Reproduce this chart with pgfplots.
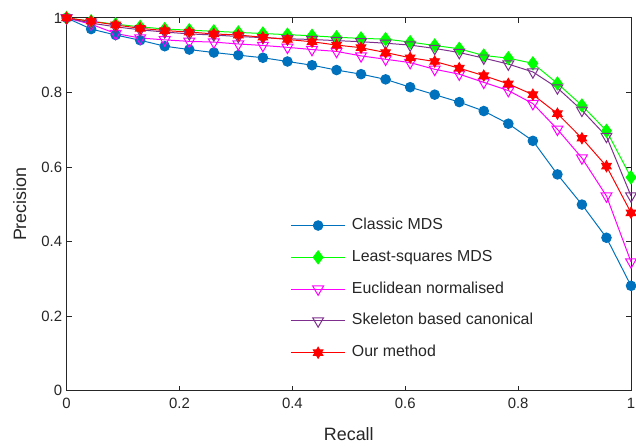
\documentclass[border=0pt]{standalone}
\usepackage{fontspec}
\setmainfont{Liberation Sans}
\usepackage{pgfplots}
\usepackage{pgfplotstable}
\pgfplotsset{compat=1.18}
\usetikzlibrary{plotmarks}

\definecolor{cBlue}{HTML}{0072BD}
\definecolor{cGreen}{HTML}{00FF00}
\definecolor{cMag}{HTML}{FF00FF}
\definecolor{cPurp}{HTML}{7E2F8E}
\definecolor{cRed}{HTML}{FF0000}
\definecolor{axgray}{HTML}{262626}

% filled six-pointed star (matlab hexagram)
\pgfdeclareplotmark{hexstar}{%
  \pgfpathmoveto{\pgfqpoint{0pt}{\pgfplotmarksize}}%
  \pgfpathlineto{\pgfqpoint{0.866\pgfplotmarksize}{-0.5\pgfplotmarksize}}%
  \pgfpathlineto{\pgfqpoint{-0.866\pgfplotmarksize}{-0.5\pgfplotmarksize}}%
  \pgfpathclose
  \pgfpathmoveto{\pgfqpoint{0pt}{-\pgfplotmarksize}}%
  \pgfpathlineto{\pgfqpoint{-0.866\pgfplotmarksize}{0.5\pgfplotmarksize}}%
  \pgfpathlineto{\pgfqpoint{0.866\pgfplotmarksize}{0.5\pgfplotmarksize}}%
  \pgfpathclose
  \pgfusepathqfillstroke}

\pgfplotstableread{
x      cmds   lsmds  eucl   skel   ours
0.0000 1.000  1.000  1.000  1.000  1.000
0.0435 0.970  0.991  0.983  0.986  0.991
0.0870 0.954  0.983  0.958  0.976  0.981
0.1304 0.940  0.976  0.946  0.968  0.972
0.1739 0.924  0.970  0.941  0.962  0.966
0.2174 0.915  0.967  0.937  0.957  0.962
0.2609 0.907  0.964  0.935  0.954  0.957
0.3043 0.900  0.961  0.930  0.950  0.954
0.3478 0.893  0.958  0.926  0.947  0.948
0.3913 0.883  0.955  0.921  0.944  0.942
0.4348 0.873  0.952  0.915  0.942  0.936
0.4783 0.860  0.948  0.910  0.939  0.927
0.5217 0.849  0.945  0.898  0.936  0.920
0.5652 0.835  0.943  0.889  0.932  0.907
0.6087 0.814  0.935  0.880  0.927  0.893
0.6522 0.794  0.926  0.862  0.918  0.883
0.6957 0.774  0.917  0.849  0.907  0.865
0.7391 0.750  0.899  0.827  0.892  0.845
0.7826 0.716  0.892  0.805  0.876  0.823
0.8261 0.670  0.878  0.770  0.855  0.794
0.8696 0.580  0.824  0.701  0.812  0.743
0.9130 0.499  0.765  0.624  0.752  0.677
0.9565 0.410  0.697  0.522  0.682  0.602
1.0000 0.281  0.572  0.345  0.522  0.477
}\prdata

\begin{document}
\begin{tikzpicture}
  \begin{axis}[
    width=568pt, height=375pt, scale only axis,
    at={(0pt,0pt)}, anchor=south west,
    xmin=0, xmax=1, ymin=0, ymax=1,
    xtick={0,0.2,0.4,0.6,0.8,1}, ytick={0,0.2,0.4,0.6,0.8,1},
    tick align=inside, major tick length=5pt,
    axis line style={draw=axgray, line width=0.8pt},
    tick style={draw=axgray, line width=0.8pt},
    ticklabel style={font=\fontsize{15}{18}\selectfont, text=axgray},
    xticklabel style={yshift=-4pt},
    yticklabel style={xshift=-1pt},
    /pgf/number format/assume math mode=true,
    xlabel={Recall}, ylabel={Precision},
    label style={font=\fontsize{18}{21}\selectfont, text=axgray},
    xlabel style={at={(axis description cs:0.5,-0.117)}, anchor=center},
    ylabel style={at={(axis description cs:-0.083,0.5)}, anchor=center},
    legend cell align=left,
    legend image code/.code={\draw[mark repeat=2,mark phase=2,#1]
      plot coordinates {(0pt,0pt) (27.5pt,0pt) (55pt,0pt)};},
    legend style={draw=none, fill=none, inner sep=0pt,
      font=\fontsize{16}{19}\selectfont, text=axgray,
      at={(0.396,0.462)}, anchor=north west,
      row sep=18pt, column sep=6pt,
      nodes={inner sep=0pt, text height=11pt, text depth=3pt}},
  ]
    \addplot[cBlue, line width=1pt, mark=*, mark size=4.8pt,
      mark options={fill=cBlue}] table[x=x, y=cmds] {\prdata};
    \addplot[cGreen, line width=1pt, mark=diamond*, mark size=6.5pt,
      mark options={fill=cGreen}] table[x=x, y=lsmds] {\prdata};
    \addplot[cMag, line width=1pt, mark=triangle, mark size=6.3pt,
      mark options={rotate=180, fill=white, line width=1pt}] table[x=x, y=eucl] {\prdata};
    \addplot[cPurp, line width=1pt, mark=triangle, mark size=6.3pt,
      mark options={rotate=180, fill=none, line width=1pt}] table[x=x, y=skel] {\prdata};
    \addplot[cRed, line width=1pt, mark=hexstar, mark size=5.5pt,
      mark options={fill=cRed}] table[x=x, y=ours] {\prdata};
    \legend{Classic MDS, Least-squares MDS, Euclidean normalised,
      Skeleton based canonical, Our method}
  \end{axis}
  \pgfresetboundingbox
  \path (-67pt,-56pt) rectangle (573pt,393pt);
\end{tikzpicture}
\end{document}
